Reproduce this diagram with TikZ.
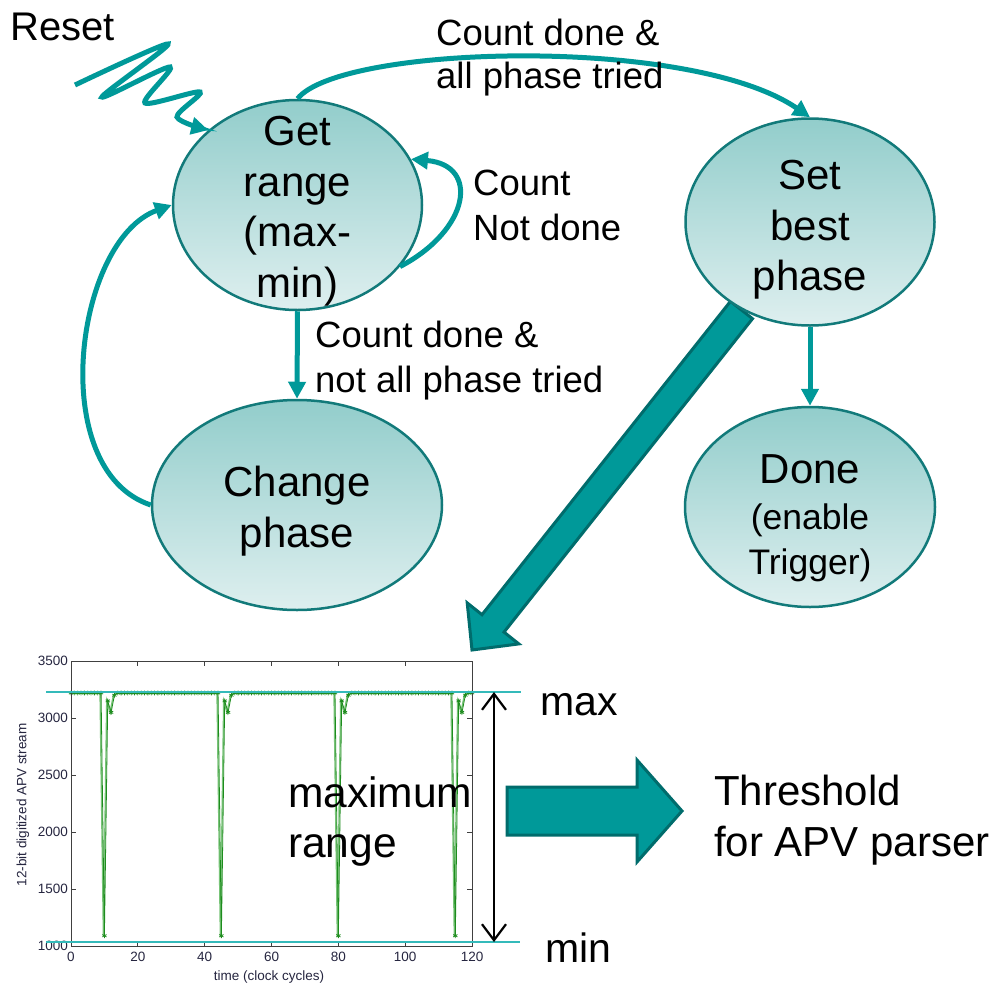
\documentclass[tikz,border=0pt]{standalone}
\usepackage{fontspec}
\setmainfont{Liberation Sans}
\usetikzlibrary{arrows.meta,shapes.geometric,calc,plotmarks}

\definecolor{flowteal}{RGB}{0,153,153}
\definecolor{rimteal}{RGB}{18,122,122}
\definecolor{topfill}{RGB}{146,205,203}
\definecolor{botfill}{RGB}{222,239,239}
\definecolor{blockfill}{RGB}{0,153,153}
\definecolor{blockrim}{RGB}{0,108,108}
\definecolor{levelline}{RGB}{52,186,186}
\definecolor{tracedark}{RGB}{30,140,30}
\definecolor{tracelight}{RGB}{120,196,120}
\definecolor{ticktext}{RGB}{38,38,64}

\newcommand\fsz[2]{\fontsize{#1}{#2}\selectfont}

\begin{document}
\begin{tikzpicture}[x=1pt,y=-1pt,
  state/.style={ellipse, draw=rimteal, line width=2.5pt,
    top color=topfill, bottom color=botfill, inner sep=0pt},
  statetext/.style={inner sep=0pt, align=center, font=\fsz{42}{50.5}},
  flow/.style={draw=flowteal, line width=5pt,
    -{Triangle[length=17pt,width=17pt]}},
  lbl/.style={inner sep=0pt, anchor=base west, align=left},
  block/.style={fill=blockfill, draw=blockrim, line width=3pt, line join=miter},
  level/.style={draw=levelline, line width=2pt},
  axisline/.style={draw=black!75, line width=0.8pt},
  ticklbl/.style={inner sep=0pt, text=ticktext, font=\fsz{13.5}{15}},
  declare function={apv(\t)=(mod(\t+25,35)==0)*90+(mod(\t+25,35)==1)*2150
     +(mod(\t+25,35)==2)*2050+(mod(\t+25,35)==3)*2200+(mod(\t+25,35)>3)*2220;}
]
\useasboundingbox (0,0) rectangle (994,985);
\fill[white] (0,0) rectangle (994,985);

% wide arrow leading from the phase selection down to the plot
\draw[block] (730.5,301.3) -- (752.5,318.7) -- (504,632.1) -- (518.8,643.9)
  -- (472,650) -- (467.2,602.9) -- (482,614.7) -- cycle;

% states
\node[state, minimum width=249pt, minimum height=210pt] (get) at (297.5,205) {};
\node[state, minimum width=249pt, minimum height=207pt] (set) at (810,222) {};
\node[state, minimum width=290pt, minimum height=210pt] (change) at (297,505) {};
\node[state, minimum width=250pt, minimum height=200pt] (done) at (810,507) {};

\node[statetext] (gettxt) at ($(get)+(0,6)$) {Get\\range\\(max-\\min)};
\node[statetext] (settxt) at ($(set)+(0,8)$) {Set\\best\\phase};
\node[statetext] (changetxt) at ($(change)+(0,6)$) {Change\\phase};
\node[statetext] (donetxt) at ($(done)+(0,11)$)
  {Done\\[-4pt]{\fsz{35.5}{39}(enable}\\[-6pt]{\fsz{35.5}{39}Trigger)}};

% transitions
\coordinate (rs) at (75,85);
\draw[flow] plot[smooth, tension=0.5] coordinates
  {(rs) (168,44) (102,97) (170,67) (145,103) (200,92) (177,117) (get.140)};
\draw[flow] (get.north) .. controls (340,45) and (690,35) .. (set.north);
\draw[flow] (get.-31) .. controls (470,230) and (480,165) .. (get.22);
\draw[flow] (get.south) -- (change.north);
\draw[flow] (change.west) .. controls (45,470) and (75,240) .. (get.west);
\draw[flow] (set.south) -- (done.north);

% transition labels (base anchor sits on the last line)
\node[lbl, font=\fsz{40}{48}] (resetlbl) at (10,40) {Reset};
\node[lbl, font=\fsz{36.5}{43}] (alllbl) at (436,88) {Count done \&\\all phase tried};
\node[lbl, font=\fsz{36.5}{45}] (notlbl) at (473,240) {Count\\Not done};
\node[lbl, font=\fsz{36.5}{45}] (somelbl) at (315,392) {Count done \&\\not all phase tried};

% captured APV stream
\begin{scope}[shift={(71,946)}, x=3.342pt, y=0.114pt]
  \draw[tracelight, line width=1.4pt, xshift=-1pt]
    plot[samples at={0,1,...,120}] (\x,{apv(\x)});
  \draw[tracedark, line width=0.8pt]
    plot[samples at={0,1,...,120}, mark=asterisk, mark size=2.4pt,
         mark options={line width=0.8pt}] (\x,{apv(\x)});
  \draw[axisline] (0,0) rectangle (120,2500);
  \foreach \v/\l in {0/1000,500/1500,1000/2000,1500/2500,2000/3000,2500/3500}{
    \draw[axisline] (0,\v) -- ++(5pt,0pt);
    \draw[axisline] (120,\v) -- ++(-5pt,0pt);
    \node[ticklbl, anchor=east] at ($(0,\v)+(-3pt,0pt)$) {\l};
  }
  \foreach \t in {0,20,...,120}{
    \draw[axisline] (\t,0) -- ++(0pt,5pt);
    \draw[axisline] (\t,2500) -- ++(0pt,-5pt);
    \node[ticklbl, anchor=north] at ($(\t,0)+(0pt,-6pt)$) {\t};
  }
\end{scope}
\node[ticklbl, rotate=90] (ylab) at (23,805) {12-bit digitized APV stream};
\node[ticklbl] (xlab) at (269,977) {time (clock cycles)};

% max / min levels
\coordinate (maxL) at (46,692);
\coordinate (maxR) at (521,692);
\coordinate (minL) at (46,942);
\coordinate (minR) at (520,942);
\draw[level] (maxL) -- (maxR);
\draw[level] (minL) -- (minR);
\coordinate (spanTop) at (494,692);
\coordinate (spanBot) at (494,942);
\draw[line width=2.2pt, {Straight Barb[length=16pt,width=24pt]}-{Straight Barb[length=16pt,width=24pt]}]
  (spanTop) -- (spanBot);

\node[lbl, font=\fsz{41}{48}] (maxlbl) at (540,715) {max};
\node[lbl, font=\fsz{41}{48}] (minlbl) at (545,962) {min};
\node[lbl, font=\fsz{42.5}{50}] (rangelbl) at (288,857) {maximum\\range};

% threshold output
\draw[block] (507,787) -- (637,787) -- (637,760) -- (682,811) -- (637,862)
  -- (637,835) -- (507,835) -- cycle;
\node[lbl, font=\fsz{42}{51}] (thrlbl) at (714,856) {Threshold\\for APV parser};
\end{tikzpicture}
\end{document}
